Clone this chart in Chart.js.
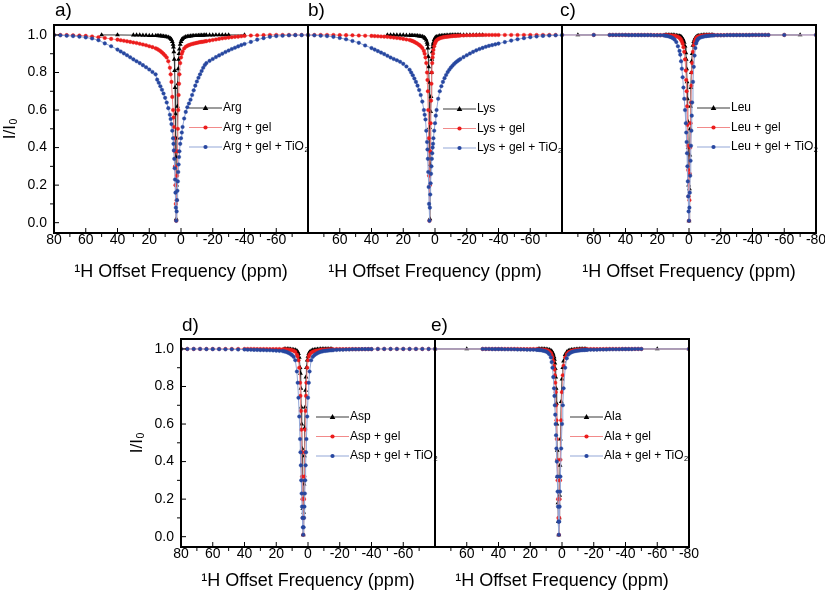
<!DOCTYPE html>
<html>
<head>
<meta charset="utf-8">
<script src="https://cdn.jsdelivr.net/npm/chart.js@4.4.1/dist/chart.umd.min.js"></script>
<style>
  body { margin: 0; background: #fff; width: 825px; height: 597px; position: relative; overflow: hidden; }
  canvas { position: absolute; }
</style>
</head>
<body>
<canvas id="pa"></canvas>
<canvas id="pb"></canvas>
<canvas id="pc"></canvas>
<canvas id="pd"></canvas>
<canvas id="pe"></canvas>
<script>
// ---- offsets (ppm) ----
const offOuterL = [80,76,72,68,64,60,56,52,48,44,40,38,36,34,32,30,28,26,24,22,20,18,16];
const offCore = [15,14,13,12,11,10,9,8,7,6.5,6,5.5,5,4.75,4.5,4.25,4,3.75,3.5,3.25,3,2.75,2.5,2.25,2,1.75,1.5,1.25,1,0.5,0,-0.5,-1,-2,-3,-4,-5,-6,-7,-8,-9,-10,-11,-12,-13,-14,-15];
const offOuterR = [-16,-18,-20,-22,-24,-26,-28,-30,-32,-34,-36,-38,-40,-44,-48,-52,-56,-60,-64,-68,-72,-76,-80];
const offSparseL = [50,48,46,44,42,40,38,36,34,32,30,28,26,24,22,20,18,16];
const offSparseR = [-16,-18,-20,-22,-24,-26,-28,-30,-32,-34,-36,-38,-40,-42,-44,-46,-48,-50];
const offCoreC = [15,14,13,12,11,10,9,8,7,6,5.5,5,4.5,4,3.5,3,2.5,2,1.75,1.5,1.25,1,0.75,0.5,0.25,0,-0.25,-0.5,-0.75,-1,-1.25,-1.5,-1.75,-2,-2.5,-3,-3.5,-4,-4.5,-5,-5.5,-6,-7,-8,-9,-10,-11,-12,-13,-14,-15];

const offWide = [...offOuterL, ...offCore, ...offOuterR];
const offArg = [50,40,30,28,26,24,22,20,18,16, ...offCore, -16,-18,-20,-22,-24,-26,-28,-30,-40];
const offLys = [30,28,26,24,22,20,18,16, ...offCore, -16,-18,-20,-22,-24,-26,-28,-30];
const offLeuMix = [80,60, ...offSparseL, ...offCoreC, ...offSparseR, -60,-80];
const offLeu = [70, ...offCoreC, -70];
const offAlaMix = [80, ...offSparseL, ...offCore, ...offSparseR, -80];
const offAla = [80,60, ...offCore, -60,-80];

// ---- a) Arg ----
const argY = [1,1,.999,.999,.999,.998,.998,.997,.997,.996,
  .996,.995,.995,.994,.993,.992,.99,.988,.984,.98, .975,.965,.95,.935,.91,.87,.81,.72,.58,.35,
  .02,.2,.45,.62,.74,.82,.87,.9,.925,.95, .965,.975,.98,.986,.99,.992,.993,.994,.995,.996,
  .996,.997,.997,.998,.998,.998,.999,
  .999,.999,.999,1,1,1,1,1,1];
const argGelY = [1,1,.999,.998,.997,.995,.992,.988,.984,.979,.975,.972,.969,.966,.963,.96,.957,.953,.949,.945,.94,.935,.929,
  .925,.92,.914,.907,.899,.89,.88,.86,.825,.79, .75,.67,.6,.56,.51,.45,.38,.3,.2,.1,
  .01,.12,.25,.38,.5,.6,.68,.74,.79,.85, .88,.9,.912,.928,.937,.942,.946,.949,.952,.954,
  .956,.958,.96,.962,.963,.964,.966,
  .967,.97,.973,.976,.979,.982,.984,.986,.988,.99,.991,.993,.995,.997,.998,.999,1,1,1,1,1,1,1];
const argTiY = [.999,.998,.996,.994,.991,.987,.981,.972,.955,.94,.922,.912,.902,.892,.881,.87,.86,.85,.839,.828,.816,.803,.79,
  .762,.745,.727,.708,.688,.665,.64,.61,.575,.552, .525,.49,.45,.42,.385,.34,.29,.23,.16,.08,
  .01,.06,.12,.17,.22,.27,.31,.35,.38,.42, .45,.48,.51,.555,.59,.615,.635,.655,.68,.705,
  .73,.752,.772,.79,.808,.825,.84,
  .85,.862,.872,.882,.891,.9,.909,.917,.925,.932,.939,.946,.952,.963,.975,.983,.99,.994,.996,.998,.999,.999,1];

// ---- b) Lys ----
const lysY = [1,1,1,.999,.999,.999,.998,.998,
  .997,.997,.996,.996,.995,.994,.993,.991,.988,.985, .98,.972,.96,.95,.93,.885,.83,.746,.507,.02,
  .309,.592,.672,.8,.87,.91,.935,.95,.96,.975, .983,.987,.99,.993,.995,.996,.997,.997,.998,.998,
  .998,.999,.999,.999,.999,1,1,
  1,1,1,1,1,1,1,1];
const lysGelY = [1,1,1,1,1,.999,.999,.998,.997,.996,.995,.994,.993,.992,.991,.99,.988,.986,.984,.982,.979,.976,.973,
  .97,.967,.963,.958,.953,.947,.94,.93,.915,.9, .88,.85,.8,.76,.7,.6,.45,.25,.01,.2,
  .38,.53,.65,.74,.8,.85,.88,.9,.92,.94, .955,.965,.972,.978,.982,.985,.987,.989,.99,.991,
  .992,.993,.994,.995,.995,.996,.996,
  .997,.997,.998,.998,.999,.999,1,1,1,1,1,1,1,1,1,1,1,1,1,1,1,1];
const lysTiY = [.999,.998,.996,.994,.99,.984,.977,.968,.958,.944,.93,.922,.914,.906,.898,.889,.88,.872,.865,.857,.846,.832,.815,
  .8,.785,.768,.75,.73,.707,.68,.645,.6,.575, .55,.49,.43,.39,.34,.27,.19,.1,.01,.08,
  .15,.21,.26,.3,.34,.37,.4,.42,.45,.49, .53,.57,.6,.66,.7,.727,.75,.77,.787,.802,
  .815,.826,.836,.845,.853,.86,.866,
  .872,.882,.892,.901,.91,.918,.925,.931,.937,.942,.946,.95,.954,.962,.97,.977,.983,.988,.992,.995,.997,.998,.999];

// ---- c) Leu ----
const leuY = [1,
  1,1,1,.999,.999,.999,.998,.997,.996,.994, .992,.99,.986,.98,.972,.96,.94,.905,
  .87,.82,.75,.66,.54,.4,.2,.01,.18,.36,.5,.62,.72,.8,.86,
  .9,.945,.965,.977,.984,.989,.992,.994, .995,.997,.998,.999,.999,1,1,1,1,1,
  1];
const leuGelY = [1,1, 1,1,1,1,1,1,1,1,1,1,1,1,1,1,.999,.999,.999,.999,
  .999,.999,.998,.998,.997,.996,.995,.993,.99,.985, .98,.974,.965,.953,.935,.91,.87,.81,
  .76,.7,.62,.52,.41,.28,.14,.01,.12,.26,.4,.53,.64,.73,.8,
  .85,.91,.945,.963,.975,.982,.987,.99, .992,.995,.996,.997,.998,.998,.999,.999,.999,1,
  .999,.999,.999,.999,1,1,1,1,1,1,1,1,1,1,1,1,1,1, 1,1];
const leuTiY = [1,1, 1,1,1,1,1,1,.999,.999,.999,.999,.999,.999,.999,.999,.998,.998,.998,.998,
  .996,.995,.993,.99,.987,.982,.975,.962,.94,.915, .895,.86,.82,.775,.72,.66,.6,.53,
  .48,.43,.37,.3,.22,.14,.06,.01,.08,.16,.25,.33,.41,.49,.57,
  .64,.75,.83,.89,.93,.955,.968,.976, .981,.986,.989,.991,.993,.994,.995,.996,.997,.997,
  .998,.998,.998,.998,.999,.999,.999,.999,.999,.999,.999,.999,1,1,1,1,1,1, 1,1];

// ---- d) Asp ----
const aspY = [1,1,.999,.999,.998,.997,.996,.994,.99,.985, .975,.955,.9,.87,.79,.69,.6,.47,.3,.15,
  .01,.13,.28,.43,.58,.69,.78,.85,.9,.94, .96,.975,.983,.99,.994,.996,.997,.998,.998,.999,
  .999,1,1,1,1,1,1];
const aspGelY = [1,1,1,1,1,1,1,1,1,1,1,1,1,1,.999,.999,.999,.999,.999,.999,.999,.999,.998,
  .998,.998,.997,.996,.995,.993,.99,.985,.97,.96, .94,.9,.82,.75,.67,.57,.45,.32,.2,.1,
  .01,.1,.2,.32,.45,.57,.67,.75,.82,.9, .94,.96,.97,.98,.985,.988,.99,.992,.993,.995,
  .996,.996,.997,.997,.998,.998,.998,
  .998,.999,.999,.999,.999,.999,.999,.999,.999,.999,.999,.999,.999,1,1,1,1,1,1,1,1,1,1];
const aspTiY = [1,1,1,1,.999,.999,.999,.998,.998,.997,.997,.996,.996,.995,.995,.994,.994,.993,.993,.992,.991,.99,.989,
  .987,.985,.982,.978,.973,.967,.958,.94,.88,.82, .74,.64,.52,.45,.38,.3,.23,.16,.1,.05,
  .01,.05,.1,.16,.23,.3,.38,.45,.52,.64, .74,.82,.88,.94,.958,.967,.973,.978,.982,.985,
  .987,.989,.99,.991,.992,.993,.993,
  .994,.995,.996,.996,.997,.997,.998,.998,.998,.999,.999,.999,.999,1,1,1,1,1,1,1,1,1,1];

// ---- e) Ala ----
const alaY = [1,1,
  1,1,.999,.999,.999,.998,.997,.995,.991,.987, .982,.972,.958,.945,.925,.895,.85,.79,.71,.6,
  .46,.32,.18,.08,.01,.1,.22,.38,.52,.72, .84,.9,.935,.97,.983,.99,.993,.995,.996,.997,
  .998,.998,.999,.999,.999,1,1,
  1,1];
const alaGelY = [1, 1,1,1,1,1,1,1,1,1,1,1,1,.999,.999,.999,.999,.999,.999,
  .998,.997,.997,.996,.995,.994,.992,.988,.978,.968, .955,.935,.91,.89,.86,.82,.77,.7,.62,.52,
  .41,.3,.2,.1,.01,.1,.2,.3,.41,.62, .77,.86,.91,.955,.973,.982,.986,.99,.992,.994,
  .995,.996,.997,.997,.998,.998,.998,
  .999,.999,.999,.999,.999,.999,1,1,1,1,1,1,1,1,1,1,1,1, 1];
const alaTiY = [1, 1,1,1,.999,.999,.999,.999,.998,.998,.998,.998,.997,.997,.997,.996,.996,.996,.995,
  .995,.994,.993,.991,.989,.986,.981,.972,.955,.93, .9,.85,.79,.75,.7,.65,.6,.54,.47,.4,
  .32,.24,.16,.08,.01,.08,.16,.24,.32,.47, .6,.7,.79,.9,.95,.97,.978,.983,.986,.988,
  .99,.991,.992,.993,.994,.994,.995,
  .995,.996,.996,.996,.997,.997,.997,.998,.998,.998,.998,.999,.999,.999,.999,1,1,1, 1];

// ---- axes ----
const xMajor = [80,60,40,20,0,-20,-40,-60,-80];
const xMinor = [70,50,30,10,-10,-30,-50,-70];
const yMajor = [0,0.2,0.4,0.6,0.8,1.0];
const yMinor = [0.1,0.3,0.5,0.7,0.9];

const FONT = "'Liberation Sans', Arial, Helvetica, sans-serif";
const PAD = {l: 60, t: 26, r: 20, b: 62};

const STY = [
  {borderColor: '#3a3a3a', pointBackgroundColor: '#000', pointBorderColor: '#000', pointStyle: 'triangle', pointRadius: 2.8, pointBorderWidth: 0, order: 2},
  {borderColor: '#f28a8a', pointBackgroundColor: '#ec1c1c', pointBorderColor: '#ec1c1c', pointStyle: 'circle', pointRadius: 1.8, pointBorderWidth: 0.4, order: 1},
  {borderColor: '#93a7d8', pointBackgroundColor: '#2747a0', pointBorderColor: '#2747a0', pointStyle: 'circle', pointRadius: 1.8, pointBorderWidth: 0.4, order: 0}
];

function marker(ctx, st, x, y) {
  ctx.fillStyle = st.pointBackgroundColor;
  ctx.beginPath();
  if (st.pointStyle === 'triangle') {
    const r = st.pointRadius;
    ctx.moveTo(x, y - r * 1.1);
    ctx.lineTo(x + r, y + r * 0.7);
    ctx.lineTo(x - r, y + r * 0.7);
    ctx.closePath();
  } else {
    ctx.arc(x, y, st.pointRadius + 0.3, 0, Math.PI * 2);
  }
  ctx.fill();
}

// text with an optional trailing subscript written as a unicode subscript digit
const SUBS = {'₀': '0', '₂': '2'};
function richText(ctx, text, x, y, size) {
  let main = text, sub = '';
  const last = text.slice(-1);
  if (SUBS[last]) { main = text.slice(0, -1); sub = SUBS[last]; }
  ctx.font = size + 'px ' + FONT;
  ctx.fillText(main, x, y);
  const w = ctx.measureText(main).width;
  if (sub) {
    ctx.font = (size * 0.62) + 'px ' + FONT;
    ctx.fillText(sub, x + w + 0.5, y + size * 0.25);
  }
}
function richWidth(ctx, text, size) {
  const last = text.slice(-1);
  ctx.font = size + 'px ' + FONT;
  if (!SUBS[last]) return ctx.measureText(text).width;
  const w = ctx.measureText(text.slice(0, -1)).width;
  ctx.font = (size * 0.62) + 'px ' + FONT;
  return w + 0.5 + ctx.measureText(SUBS[last]).width;
}

const framePlugin = {
  id: 'frame',
  afterDatasetsDraw(chart, args, o) {
    const {ctx, chartArea: a, scales: {x, y}} = chart;
    ctx.save();
    ctx.strokeStyle = '#000';
    ctx.lineWidth = 1;
    ctx.beginPath();
    xMinor.forEach(v => { const p = x.getPixelForValue(v); ctx.moveTo(p, a.bottom); ctx.lineTo(p, a.bottom + 4); });
    xMajor.forEach(v => { const p = x.getPixelForValue(v); ctx.moveTo(p, a.bottom); ctx.lineTo(p, a.bottom - 5); });
    if (o.yAxis) {
      yMinor.forEach(v => { const p = y.getPixelForValue(v); ctx.moveTo(a.left, p); ctx.lineTo(a.left - 4, p); });
      yMajor.forEach(v => { const p = y.getPixelForValue(v); ctx.moveTo(a.left, p); ctx.lineTo(a.left + 5, p); });
    }
    ctx.stroke();
    ctx.lineWidth = 2;
    ctx.strokeRect(a.left, a.top, a.right - a.left, a.bottom - a.top);

    // panel tag
    ctx.fillStyle = '#000';
    ctx.font = '19px ' + FONT;
    ctx.textBaseline = 'alphabetic';
    ctx.textAlign = 'left';
    ctx.fillText(o.tag, a.left + o.tagDx, a.top - o.tagDy);

    // y title
    if (o.yAxis) {
      ctx.save();
      ctx.translate(a.left - 44, (a.top + a.bottom) / 2);
      ctx.rotate(-Math.PI / 2);
      const t = 'I/I₀';
      const w = richWidth(ctx, t, 17);
      ctx.textBaseline = 'middle';
      richText(ctx, t, -w / 2, 0, 17);
      ctx.restore();
    }

    // legend
    const lx = a.left + 135;
    ctx.textBaseline = 'middle';
    chart.data.datasets.forEach((ds, i) => {
      const ly = a.top + o.legendY + i * 19.5;
      ctx.strokeStyle = STY[i].borderColor;
      ctx.lineWidth = 1.2;
      ctx.beginPath();
      ctx.moveTo(lx, ly);
      ctx.lineTo(lx + 33, ly);
      ctx.stroke();
      marker(ctx, STY[i], lx + 16.5, ly);
      ctx.fillStyle = '#000';
      richText(ctx, ds.label, lx + 34, ly, 12);
    });
    ctx.restore();
  }
};

function makePanel(id, left, right, row, cfg) {
  const [top, bottom] = row;
  const cv = document.getElementById(id);
  const w = right - left + PAD.l + PAD.r, h = bottom - top + PAD.t + PAD.b;
  cv.width = w; cv.height = h;
  cv.style.left = (left - PAD.l) + 'px';
  cv.style.top = (top - PAD.t) + 'px';
  cv.style.width = w + 'px';
  cv.style.height = h + 'px';

  const datasets = cfg.series.map((s, i) => ({
    label: s[0],
    data: s[1].map((x, k) => ({x: x, y: s[2][k]})),
    borderWidth: 1,
    tension: 0,
    fill: false,
    spanGaps: true,
    ...STY[i]
  }));

  new Chart(cv, {
    type: 'line',
    data: {datasets},
    options: {
      responsive: false,
      animation: false,
      events: [],
      layout: {padding: {left: 0, top: PAD.t, right: PAD.r, bottom: 0}},
      scales: {
        x: {
          type: 'linear', min: -80, max: 80, reverse: true,
          afterFit: s => { s.height = PAD.b; },
          afterBuildTicks: s => { s.ticks = cfg.xLabels.map(v => ({value: v})); },
          grid: {display: false, drawTicks: false},
          border: {display: false},
          ticks: {autoSkip: false, maxRotation: 0, padding: 0, color: '#000',
                  font: {family: FONT, size: 14, lineHeight: 1},
                  callback: v => String(v)},
          title: {display: true, text: '¹H Offset Frequency (ppm)', color: '#000',
                  font: {family: FONT, size: 18}, padding: {top: 0, bottom: cfg.titlePad}}
        },
        y: {
          type: 'linear', min: -0.055, max: 1.053,
          afterFit: s => { s.width = PAD.l; },
          afterBuildTicks: s => { s.ticks = yMajor.map(v => ({value: v})); },
          grid: {display: false, drawTicks: false},
          border: {display: false},
          ticks: {display: cfg.yAxis, padding: 7, color: '#000', font: {family: FONT, size: 14},
                  callback: v => Number(v).toFixed(1)}
        }
      },
      plugins: {
        legend: {display: false},
        tooltip: {enabled: false},
        frame: {tag: cfg.tag, tagDx: cfg.tagDx, tagDy: cfg.tagDy, yAxis: cfg.yAxis, legendY: cfg.legendY}
      }
    },
    plugins: [framePlugin]
  });
}

const rowTop = [25, 233];
const rowBot = [339, 547];

makePanel('pa', 54, 308, rowTop, {
  tag: 'a)', tagDx: 1, tagDy: 9, yAxis: true, legendY: 83, titlePad: 12,
  xLabels: [80,60,40,20,0,-20,-40,-60],
  series: [['Arg', offArg, argY], ['Arg + gel', offWide, argGelY], ['Arg + gel + TiO₂', offWide, argTiY]]
});
makePanel('pb', 308, 562, rowTop, {
  tag: 'b)', tagDx: 0, tagDy: 9, yAxis: false, legendY: 84, titlePad: 12,
  xLabels: [60,40,20,0,-20,-40,-60],
  series: [['Lys', offLys, lysY], ['Lys + gel', offWide, lysGelY], ['Lys + gel + TiO₂', offWide, lysTiY]]
});
makePanel('pc', 562, 816, rowTop, {
  tag: 'c)', tagDx: -2, tagDy: 9, yAxis: false, legendY: 83, titlePad: 12,
  xLabels: [60,40,20,0,-20,-40,-60,-80],
  series: [['Leu', offLeu, leuY], ['Leu + gel', offLeuMix, leuGelY], ['Leu + gel + TiO₂', offLeuMix, leuTiY]]
});
makePanel('pd', 181, 435, rowBot, {
  tag: 'd)', tagDx: 1, tagDy: 8, yAxis: true, legendY: 78, titlePad: 17,
  xLabels: [80,60,40,20,0,-20,-40,-60],
  series: [['Asp', offCore, aspY], ['Asp + gel', offWide, aspGelY], ['Asp + gel + TiO₂', offWide, aspTiY]]
});
makePanel('pe', 435, 689, rowBot, {
  tag: 'e)', tagDx: -4, tagDy: 8, yAxis: false, legendY: 78, titlePad: 17,
  xLabels: [60,40,20,0,-20,-40,-60,-80],
  series: [['Ala', offAla, alaY], ['Ala + gel', offAlaMix, alaGelY], ['Ala + gel + TiO₂', offAlaMix, alaTiY]]
});
</script>
</body>
</html>
